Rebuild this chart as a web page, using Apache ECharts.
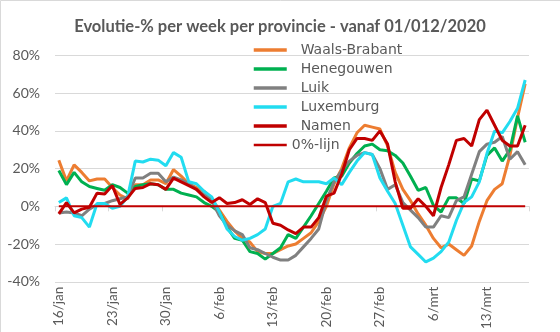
<!DOCTYPE html>
<html>
<head>
<meta charset="utf-8">
<script src="https://cdn.jsdelivr.net/npm/echarts@6/dist/echarts.min.js"></script>
<style>
html,body{margin:0;padding:0;background:#fff;}
#c{width:560px;height:332px;}
</style>
</head>
<body>
<div id="c"></div>
<script>
const categories = [
'16/jan','17/jan','18/jan','19/jan','20/jan','21/jan','22/jan','23/jan','24/jan','25/jan','26/jan','27/jan','28/jan','29/jan','30/jan','31/jan',
'1/feb','2/feb','3/feb','4/feb','5/feb','6/feb','7/feb','8/feb','9/feb','10/feb','11/feb','12/feb','13/feb','14/feb','15/feb','16/feb','17/feb','18/feb','19/feb','20/feb','21/feb','22/feb','23/feb','24/feb','25/feb','26/feb','27/feb','28/feb',
'1/mrt','2/mrt','3/mrt','4/mrt','5/mrt','6/mrt','7/mrt','8/mrt','9/mrt','10/mrt','11/mrt','12/mrt','13/mrt','14/mrt','15/mrt','16/mrt','17/mrt','18/mrt'];

const waalsBrabant = [24.5,13.5,22,18,13.5,14.5,14.5,10,6,4, 11.5,11.5,14,14,12,19.5,16,12,10,8, 4,-2,-8,-13,-17,-19,-24,-25,-25,-23, -21,-20,-17,-14,-8,0,12,20,31,39, 43,42,41,32,18,9,3,-4,-10,-17, -22,-20,-23,-26,-21,-8,3,9,12,27, 47,65];
const henegouwen = [19,11.5,18,13,10.5,9.5,8.5,11.5,10,7, 10.5,11.5,12,11.5,9,9,7,6,5,2, 0,-3,-11,-17,-18,-24,-25,-28,-25,-22, -15,-17,-11,-5,1.5,8,15,16,23,28, 32,33,30,29.5,27,23,16,8.5,10,0.5, -3,4.5,4.5,1.5,14.5,13.5,27,31,24,30, 48,34];
const luik = [-3.5,-3,-3.5,-5,-1.5,1,1.5,3,4,5, 15,15,17.5,17.5,13,15.5,14,12,9,6, 3,-5,-10,-13,-15,-22,-23,-25,-27,-28.5, -28.5,-26,-21.5,-17,-12,3,13,19,24,27, 28.5,27.5,20,9,11.5,2,-2,-6,-11,-11, -5,-6,3,5,17,29,33,34,37,25, 29,22];
const luxemburg = [2,4.5,-5,-6,-11,1.5,1.5,-1,0,5, 24,23.5,25,24.5,21.5,28.5,26,13,12,8, 5,-3,-12,-16,-18,-17,-15,-12,0,1.5, 13,14.5,13,13,13,12,15,11.5,18,24, 28.5,27.5,15,8,1.5,-10,-21.5,-25.5,-29.5,-27.5, -24,-19,-7.5,2,5,13,28,40,39,45, 52,67];
const namen = [-4,2,-3.5,-1.5,-0.5,7,6.5,11,1,4.5, 9.5,10,12,11.5,9,15,13,11,9,5, 2,4.6,1.5,2,3.5,1,4,2,-9,-10, -12.5,-14.5,-11,-11,-6,5.4,7,17,30,36, 36,35,40,33,13,-1,-1,4,0,-5, 10,22,35,36,32,46,51,43,35,32, 32,43];
const zeroLine = categories.map(() => 0);

const legendNames = ['Waals-Brabant','Henegouwen','Luik','Luxemburg','Namen','0%-lijn'];
const yTicks = { min: -40, max: 80, interval: 20 };

const FONT = 'Lato';
const TXT = '#595959';

function lineSeries(name, data, color, width) {
  return {
    name: name, type: 'line', data: data, symbol: 'none', smooth: false,
    lineStyle: { color: color, width: width }, itemStyle: { color: color },
    emphasis: { disabled: true }, animation: false
  };
}

const chart = echarts.init(document.getElementById('c'), null, { renderer: 'canvas' });
chart.setOption({
  animation: false,
  backgroundColor: '#fff',
  textStyle: { fontFamily: FONT },
  title: {
    text: 'Evolutie-% per week per provincie - vanaf 01/012/2020',
    left: 'center', top: 13,
    textStyle: { fontFamily: FONT, fontSize: 16.5, fontWeight: 'bold', color: TXT }
  },
  legend: {
    orient: 'vertical', left: 252, top: 43, padding: 0,
    itemWidth: 33, itemHeight: 14, itemGap: 5,
    itemStyle: { opacity: 0 },
    lineStyle: { width: 3.5 },
    data: legendNames.map(n => n === '0%-lijn' ? { name: n, lineStyle: { width: 2.5 } } : { name: n }),
    formatter: function (n) { return n === '0%-lijn' ? n : '  ' + n; },
    textStyle: { fontFamily: 'DejaVu Sans', fontSize: 14, lineHeight: 14, color: TXT },
    selectedMode: false
  },
  grid: { left: 55, right: 31, top: 55.5, bottom: 14.5, containLabel: false },
  xAxis: {
    type: 'category', data: categories, boundaryGap: true,
    axisLine: { onZero: true, lineStyle: { color: '#D9D9D9' } },
    axisTick: { show: true, interval: 6, length: 5, lineStyle: { color: '#D9D9D9' } },
    axisLabel: { interval: 6, rotate: 90, margin: 5, fontFamily: FONT, fontSize: 13.5, color: TXT },
    splitLine: { show: false }
  },
  yAxis: {
    type: 'value', min: yTicks.min, max: yTicks.max, interval: yTicks.interval,
    axisLine: { show: false }, axisTick: { show: false },
    axisLabel: { formatter: '{value}%', margin: 15, fontFamily: FONT, fontSize: 14, color: TXT },
    splitLine: { lineStyle: { color: '#D9D9D9', width: 1 } }
  },
  graphic: [
    { type: 'line', shape: { x1: 0.5, y1: 0.5, x2: 560, y2: 0.5 }, style: { stroke: '#D9D9D9', lineWidth: 1 } },
    { type: 'line', shape: { x1: 0.5, y1: 0.5, x2: 0.5, y2: 332 }, style: { stroke: '#D9D9D9', lineWidth: 1 } }
  ],
  series: [
    lineSeries('Waals-Brabant', waalsBrabant, '#ED7D31', 3),
    lineSeries('Henegouwen', henegouwen, '#00B050', 3),
    lineSeries('Luik', luik, '#808080', 3),
    lineSeries('Luxemburg', luxemburg, '#22DCF0', 3),
    lineSeries('Namen', namen, '#C00000', 3),
    lineSeries('0%-lijn', zeroLine, '#C00000', 2)
  ]
});
</script>
</body>
</html>
